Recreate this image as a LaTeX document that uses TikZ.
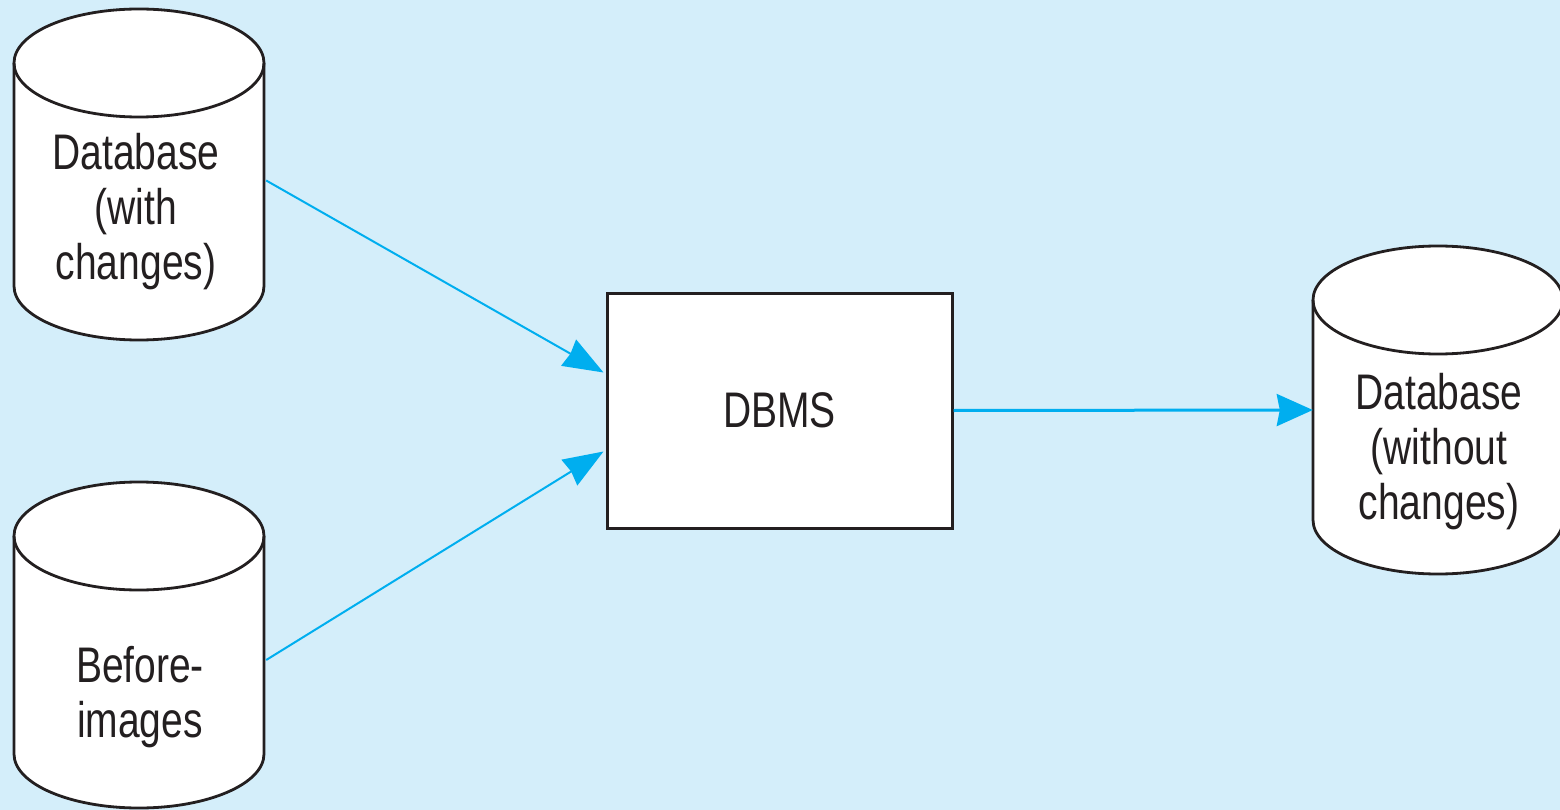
\documentclass[tikz,border=0pt]{standalone}
\usepackage{fontspec}
\setmainfont{Liberation Sans}[FakeStretch=0.78]
\usetikzlibrary{arrows.meta,calc}

\definecolor{bgblue}{HTML}{D4EEFA}
\definecolor{flow}{HTML}{00AEEF}
\definecolor{ink}{HTML}{231F20}

% Disk-store symbol: body node #1 centred at x=#2 between ellipse centres #3 (top) and #4 (bottom)
\newcommand{\drawdb}[4]{%
  \node[dbbody] (#1) at (#2,{(#3+#4)/2}) [minimum height={(#4-#3)*1pt}] {};
  \draw[dbline, fill=white]
    (#2-125,#3) -- (#2-125,#4)
    arc[start angle=180, end angle=0, x radius=125, y radius=54]
    -- (#2+125,#3)
    arc[start angle=0, end angle=-180, x radius=125, y radius=54] -- cycle;
  \draw[dbline] (#2-125,#3) arc[start angle=180, end angle=0, x radius=125, y radius=54];
}

\begin{document}
\begin{tikzpicture}[x=1pt, y=-1pt,
  dbbody/.style={rectangle, inner sep=0pt, minimum width=250pt},
  dbline/.style={draw=ink, line width=2.8pt},
  label/.style={align=center, text=ink, inner sep=0pt,
    font=\fontsize{50}{55}\selectfont},
  procbox/.style={draw=ink, line width=3pt, fill=white, inner sep=0pt,
    minimum width=345pt, minimum height=235pt,
    font=\fontsize{50}{55}\selectfont, text=ink},
  flowthin/.style={draw=flow, line width=2pt,
    -{Stealth[length=40pt, width=30pt, inset=2pt]}},
  flowthick/.style={draw=flow, line width=3pt,
    -{Stealth[length=36pt, width=32pt, inset=3pt]}}]

  \fill[bgblue] (0,0) rectangle (1560,810);
  \useasboundingbox (0,0) rectangle (1560,810);

  % stores
  \drawdb{db1}{139}{63}{286}
  \drawdb{db2}{139}{536}{754}
  \drawdb{db3}{1438}{300}{520}

  \node[label] (db1text) at (136,212) {Database\\(with\\changes)};
  \node[label] (db2text) at (140,697) {Before-\\images};
  \node[label] (db3text) at (1439,452) {Database\\(without\\changes)};

  % processor
  \node[procbox] (dbms) at (779.5,410.5) {DBMS};

  % data flows
  \draw[flowthin] ($(db1.east)+(2,6)$) -- ($(dbms.west)+(-2,-38)$);
  \draw[flowthin] ($(db2.east)+(2,15)$) -- ($(dbms.west)+(-2,41)$);
  \draw[flowthick] (dbms.east) -- (db3.west);
\end{tikzpicture}
\end{document}
